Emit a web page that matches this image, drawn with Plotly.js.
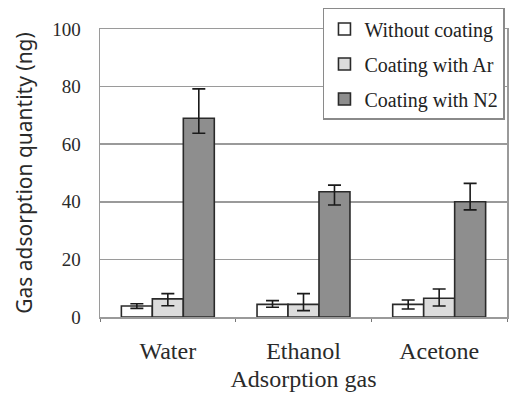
<!DOCTYPE html>
<html>
<head>
<meta charset="utf-8">
<script src="https://cdn.plot.ly/plotly-3.0.1.min.js"></script>
<style>html,body{margin:0;padding:0;background:#fff;}#chart{width:510px;height:394px;}</style>
</head>
<body>
<div id="chart"></div>
<script>
const categories = ["Water", "Ethanol", "Acetone"];
const seriesNames = ["Without coating", "Coating with Ar", "Coating with N2"];
const withoutCoating = [3.8, 4.4, 4.4];
const withoutErrPlus = [0.8, 1.3, 1.5];
const withoutErrMinus = [0.8, 1.0, 1.6];
const withAr = [6.3, 4.4, 6.5];
const withArErrPlus = [1.8, 3.7, 3.2];
const withArErrMinus = [2.4, 2.2, 2.7];
const withN2 = [69.0, 43.5, 40.0];
const withN2ErrPlus = [10.2, 2.3, 6.4];
const withN2ErrMinus = [5.2, 4.6, 2.8];
const yTicks = [0, 20, 40, 60, 80, 100];

const fills = ["#ffffff", "#dcdcdc", "#8e8e8e"];
const values = [withoutCoating, withAr, withN2];
const plus = [withoutErrPlus, withArErrPlus, withN2ErrPlus];
const minus = [withoutErrMinus, withArErrMinus, withN2ErrMinus];

const traces = seriesNames.map((name, i) => ({
  type: "bar",
  name: name,
  legendgroup: "g" + i,
  x: categories,
  y: values[i],
  marker: { color: fills[i], line: { color: "#2a2a2a", width: 1.6 } },
  error_y: {
    type: "data", symmetric: false,
    array: plus[i], arrayminus: minus[i],
    color: "#1a1a1a", thickness: 1.6, width: 6.5
  }
}));

const serif = "Liberation Serif, Times New Roman, serif";
const layout = {
  width: 510, height: 394,
  margin: { l: 100, r: 3, t: 29, b: 77 },
  paper_bgcolor: "#ffffff", plot_bgcolor: "#ffffff",
  barmode: "group", bargap: 0.315, bargroupgap: 0,
  showlegend: true,
  legend: {
    x: 0.995, xanchor: "right", y: 1.073, yanchor: "top",
    bgcolor: "#ffffff", bordercolor: "#8a8a8a", borderwidth: 1.5,
    font: { family: serif, size: 20, color: "#222" },
    tracegroupgap: 6, traceorder: "grouped", itemwidth: 30
  },
  xaxis: {
    type: "category",
    showline: true, mirror: true, linecolor: "#9a9a9a", linewidth: 1.5,
    ticks: "outside", tickson: "boundaries", ticklen: 3, tickcolor: "#777",
    ticklabelstandoff: 12,
    tickfont: { family: serif, size: 24, color: "#2a2a2a" },
    title: { text: "Adsorption gas", font: { family: serif, size: 24, color: "#2a2a2a" }, standoff: 7 },
    fixedrange: true
  },
  yaxis: {
    range: [0, 100], tickvals: yTicks, ticktext: yTicks.map(String),
    showgrid: true, gridcolor: "#9a9a9a", gridwidth: 1.5,
    showline: true, mirror: true, linecolor: "#9a9a9a", linewidth: 1.5,
    zeroline: false, ticks: "", ticklabelstandoff: 14,
    tickfont: { family: serif, size: 19, color: "#2a2a2a" },
    title: { text: "Gas adsorption quantity (ng)", font: { family: "Noto Sans, sans-serif", size: 21, color: "#2a2a2a" }, standoff: 14 },
    fixedrange: true
  }
};

Plotly.newPlot("chart", traces, layout, { displayModeBar: false, staticPlot: true });
</script>
</body>
</html>
